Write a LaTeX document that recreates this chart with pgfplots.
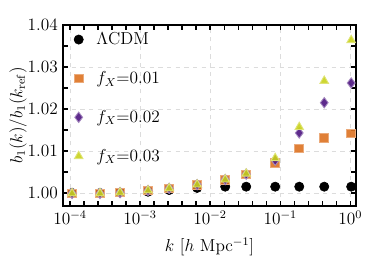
\documentclass[border=0pt]{standalone}
\usepackage{pgfplots}
\pgfplotsset{compat=1.18}
\definecolor{corange}{RGB}{221,114,33}
\definecolor{cpurple}{RGB}{76,20,128}
\definecolor{cyellow}{RGB}{201,210,26}
\definecolor{gridgray}{RGB}{220,220,220}

\pgfplotstableread{
k        lcdm    f1      f2      f3
1.07e-4  1.0000  0.9999  0.9999  0.9999
2.68e-4  1.0000  0.9999  0.9999  0.9999
5.18e-4  1.0001  1.0001  1.0001  1.0001
1.30e-3  1.0003  1.0006  1.0006  1.0006
2.60e-3  1.0007  1.0011  1.0011  1.0011
6.52e-3  1.0012  1.0019  1.0020  1.0020
1.64e-2  1.0015  1.0031  1.0032  1.0032
3.27e-2  1.0015  1.0044  1.0045  1.0046
8.48e-2  1.0015  1.0072  1.0078  1.0083
0.187    1.0015  1.0106  1.0143  1.0157
0.425    1.0015  1.0131  1.0215  1.0267
1.03     1.0015  1.0142  1.0262  1.0364
}\datatable

\begin{document}
\begin{tikzpicture}
\begin{axis}[
  scale only axis, width=202bp, height=124.8bp,
  xmode=log, xmin=7.943e-5, xmax=1.2023,
  ymin=0.9969, ymax=1.04,
  xtick={1e-4,1e-3,1e-2,1e-1,1},
  minor xtick={1.585e-4,2.512e-4,3.981e-4,6.310e-4,1.585e-3,2.512e-3,3.981e-3,6.310e-3,1.585e-2,2.512e-2,3.981e-2,6.310e-2,0.1585,0.2512,0.3981,0.6310},
  ytick={1.00,1.01,1.02,1.03,1.04},
  minor ytick={1.005,1.015,1.025,1.035},
  yticklabel style={/pgf/number format/fixed,/pgf/number format/fixed zerofill,/pgf/number format/precision=2},
  tick label style={font=\large},
  label style={font=\large},
  tick align=inside, major tick length=3.5bp, minor tick length=3.5bp,
  every tick/.style={black, line width=0.9bp},
  axis line style={line width=1.3bp},
  xmajorgrids, ymajorgrids,
  major grid style={gridgray, dashed, line width=0.5bp},
  xlabel={$k$ [$h$ Mpc$^{-1}$]},
  ylabel={$b_1(k)/b_1(k_\mathrm{ref})$},
  xlabel style={at={(axis description cs:0.5,-0.225)},anchor=center},
  ylabel style={at={(axis description cs:-0.1535,0.5)},anchor=center},
  legend cell align=left,
  legend style={at={(axis description cs:0.022,0.993)}, anchor=north west, draw=none, fill=none, row sep=13bp, font=\large,
     nodes={inner xsep=4bp}},
]
\addplot[only marks, mark=*, mark size=3.2bp, mark options={fill=black, draw=black}] table[x=k,y=lcdm] {\datatable};
\addlegendentry{\hspace{5bp}$\Lambda$CDM}
\addplot[only marks, mark=square*, mark size=3.0bp, mark options={fill=corange, draw=corange!60!white, line width=0.6bp, fill opacity=0.9}] table[x=k,y=f1] {\datatable};
\addlegendentry{\hspace{5bp}$f_X$=0.01}
\addplot[only marks, mark=diamond*, mark size=3.6bp, mark options={fill=cpurple, draw=cpurple!50!white, line width=0.6bp, fill opacity=0.9}] table[x=k,y=f2] {\datatable};
\addlegendentry{\hspace{5bp}$f_X$=0.02}
\addplot[only marks, mark=triangle*, mark size=3.4bp, mark options={fill=cyellow, draw=cyellow!60!white, line width=0.6bp, fill opacity=0.9}] table[x=k,y=f3] {\datatable};
\addlegendentry{\hspace{5bp}$f_X$=0.03}
\end{axis}
\pgfresetboundingbox
\path (-43.45bp,-36.55bp) rectangle (208.97bp,142.07bp);
\end{tikzpicture}
\end{document}
